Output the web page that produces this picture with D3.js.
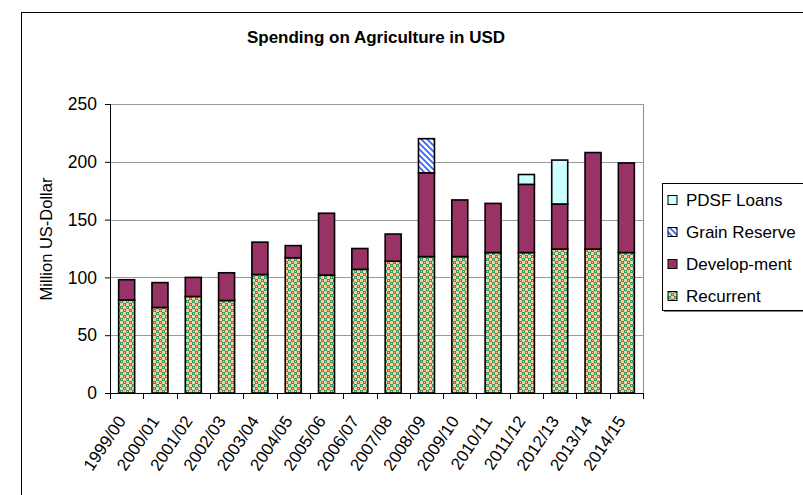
<!DOCTYPE html>
<html><head><meta charset="utf-8">
<script src="https://cdn.jsdelivr.net/npm/d3@7"></script>
<style>body{margin:0;background:#fff}svg{display:block;font-family:"Liberation Sans",Arial,sans-serif}</style>
</head><body>
<svg id="c" width="803" height="495"></svg>
<script>
const categories = ["1999/00","2000/01","2001/02","2002/03","2003/04","2004/05","2005/06","2006/07","2007/08","2008/09","2009/10","2010/11","2011/12","2012/13","2013/14","2014/15"];
const recurrent   = [80.5, 74, 83.5, 80, 102.5, 117, 102, 107, 114, 118, 118, 121.5, 121.5, 124.5, 124.5, 121.5];
const development = [17.5, 21.5, 16.5, 24, 28, 10.5, 53.5, 18, 23.5, 72.5, 49, 42.5, 59, 39, 83.5, 77.5];
const grainReserve= [0,0,0,0,0,0,0,0,0,29.5,0,0,0,0,0,0];
const pdsfLoans   = [0,0,0,0,0,0,0,0,0,0,0,0,8.5,38,0,0];
const yTicks = [0,50,100,150,200,250];
const seriesNames = ["Recurrent","Develop-ment","Grain Reserve","PDSF Loans"];

const svg = d3.select("#c");
const defs = svg.append("defs");
// Recurrent pattern
const p1 = defs.append("pattern").attr("id","pRec").attr("patternUnits","userSpaceOnUse").attr("width",6).attr("height",6);
p1.append("rect").attr("width",6).attr("height",6).attr("fill","#FFCC99");
p1.append("rect").attr("x",0).attr("y",0).attr("width",3).attr("height",3).attr("fill","#339966");
p1.append("rect").attr("x",3).attr("y",3).attr("width",3).attr("height",3).attr("fill","#339966");
p1.append("rect").attr("x",1).attr("y",1).attr("width",1).attr("height",1).attr("fill","#FFCC99");
p1.append("rect").attr("x",4).attr("y",4).attr("width",1).attr("height",1).attr("fill","#FFCC99");
// Grain pattern
const p2 = defs.append("pattern").attr("id","pGrain").attr("patternUnits","userSpaceOnUse").attr("width",6).attr("height",6);
p2.append("rect").attr("width",6).attr("height",6).attr("fill","#fff");
p2.append("path").attr("d","M-1,-1 L7,7 M-1,5 L1,7 M5,-1 L7,1").attr("stroke","#3366FF").attr("stroke-width",1.8);

const fills = {"Recurrent":"url(#pRec)","Develop-ment":"#993366","Grain Reserve":"url(#pGrain)","PDSF Loans":"#CCFFFF"};

// outer border
svg.append("rect").attr("x",21.5).attr("y",12.5).attr("width",800).attr("height",500).attr("fill","none").attr("stroke","#000");

const x = d3.scaleBand().domain(categories).range([110,643]).padding(0);
const y = d3.scaleLinear().domain([0,250]).range([393,104]);

// gridlines
svg.append("g").selectAll("line").data(yTicks.filter(d=>d>0)).join("line")
  .attr("x1",110).attr("x2",643).attr("y1",d=>Math.round(y(d))+0.5).attr("y2",d=>Math.round(y(d))+0.5)
  .attr("stroke","#999").attr("stroke-width",1.2);
// plot right border
svg.append("line").attr("x1",643.5).attr("x2",643.5).attr("y1",y(250)).attr("y2",y(0)).attr("stroke","#999").attr("stroke-width",1.2);

// stacked data
const rows = categories.map((c,i)=>({cat:c,"Recurrent":recurrent[i],"Develop-ment":development[i],"Grain Reserve":grainReserve[i],"PDSF Loans":pdsfLoans[i]}));
const stack = d3.stack().keys(seriesNames)(rows);
const bw = x.bandwidth()*0.48;
svg.append("g").selectAll("g").data(stack).join("g")
  .attr("fill",d=>fills[d.key])
  .selectAll("rect").data(d=>d.filter(s=>s[1]-s[0]>0)).join("rect")
  .attr("x",d=>x(d.data.cat)+(x.bandwidth()-bw)/2)
  .attr("y",d=>y(d[1]))
  .attr("width",bw)
  .attr("height",d=>y(d[0])-y(d[1]))
  .attr("stroke","#000").attr("stroke-width",1.6);

// y axis
const ya = svg.append("g").attr("transform","translate(110,0)")
  .call(d3.axisLeft(y).tickValues(yTicks).tickSize(5).tickPadding(8));
ya.selectAll("text").attr("font-size",17.5).attr("fill","#000").attr("font-family","Liberation Sans, Arial, sans-serif");
ya.select(".domain").attr("stroke","#000");
ya.selectAll(".tick line").attr("stroke","#000");

// x axis
svg.append("line").attr("x1",110).attr("x2",643).attr("y1",393.5).attr("y2",393.5).attr("stroke","#000");
const bounds = categories.map(c=>x(c)).concat([x(categories[categories.length-1])+x.bandwidth()]);
svg.append("g").selectAll("line").data(bounds).join("line")
  .attr("x1",d=>Math.round(d)+0.5).attr("x2",d=>Math.round(d)+0.5).attr("y1",393).attr("y2",399).attr("stroke","#000");
svg.append("g").selectAll("text").data(categories).join("text")
  .attr("transform",d=>`translate(${x(d)+x.bandwidth()/2},421) rotate(-56)`)
  .attr("text-anchor","end").attr("font-size",17).attr("fill","#000").text(d=>d);

// title
svg.append("text").attr("x",376).attr("y",43).attr("text-anchor","middle")
  .attr("font-size",17).attr("font-weight","bold").text("Spending on Agriculture in USD");
// y axis title
svg.append("text").attr("transform","translate(52,239) rotate(-90)").attr("text-anchor","middle")
  .attr("font-size",16.5).text("Million US-Dollar");

// legend
const lg = svg.append("g");
lg.append("rect").attr("x",664).attr("y",185).attr("width",150).attr("height",127).attr("fill","#808080");
lg.append("rect").attr("x",662.5).attr("y",183.5).attr("width",150).attr("height",127).attr("fill","#fff").attr("stroke","#000");
const legendOrder = seriesNames.slice().reverse();
const ly = d3.scalePoint().domain(legendOrder).range([200,296]);
const li = lg.selectAll("g.li").data(legendOrder).join("g").attr("class","li")
  .attr("transform",d=>`translate(668,${ly(d)})`);
li.append("rect").attr("x",0).attr("y",-4.5).attr("width",9).attr("height",9).attr("fill",d=>fills[d]).attr("stroke","#000");
li.append("text").attr("x",18).attr("y",0).attr("dy","0.35em").attr("font-size",17).text(d=>d);
</script>
</body></html>
